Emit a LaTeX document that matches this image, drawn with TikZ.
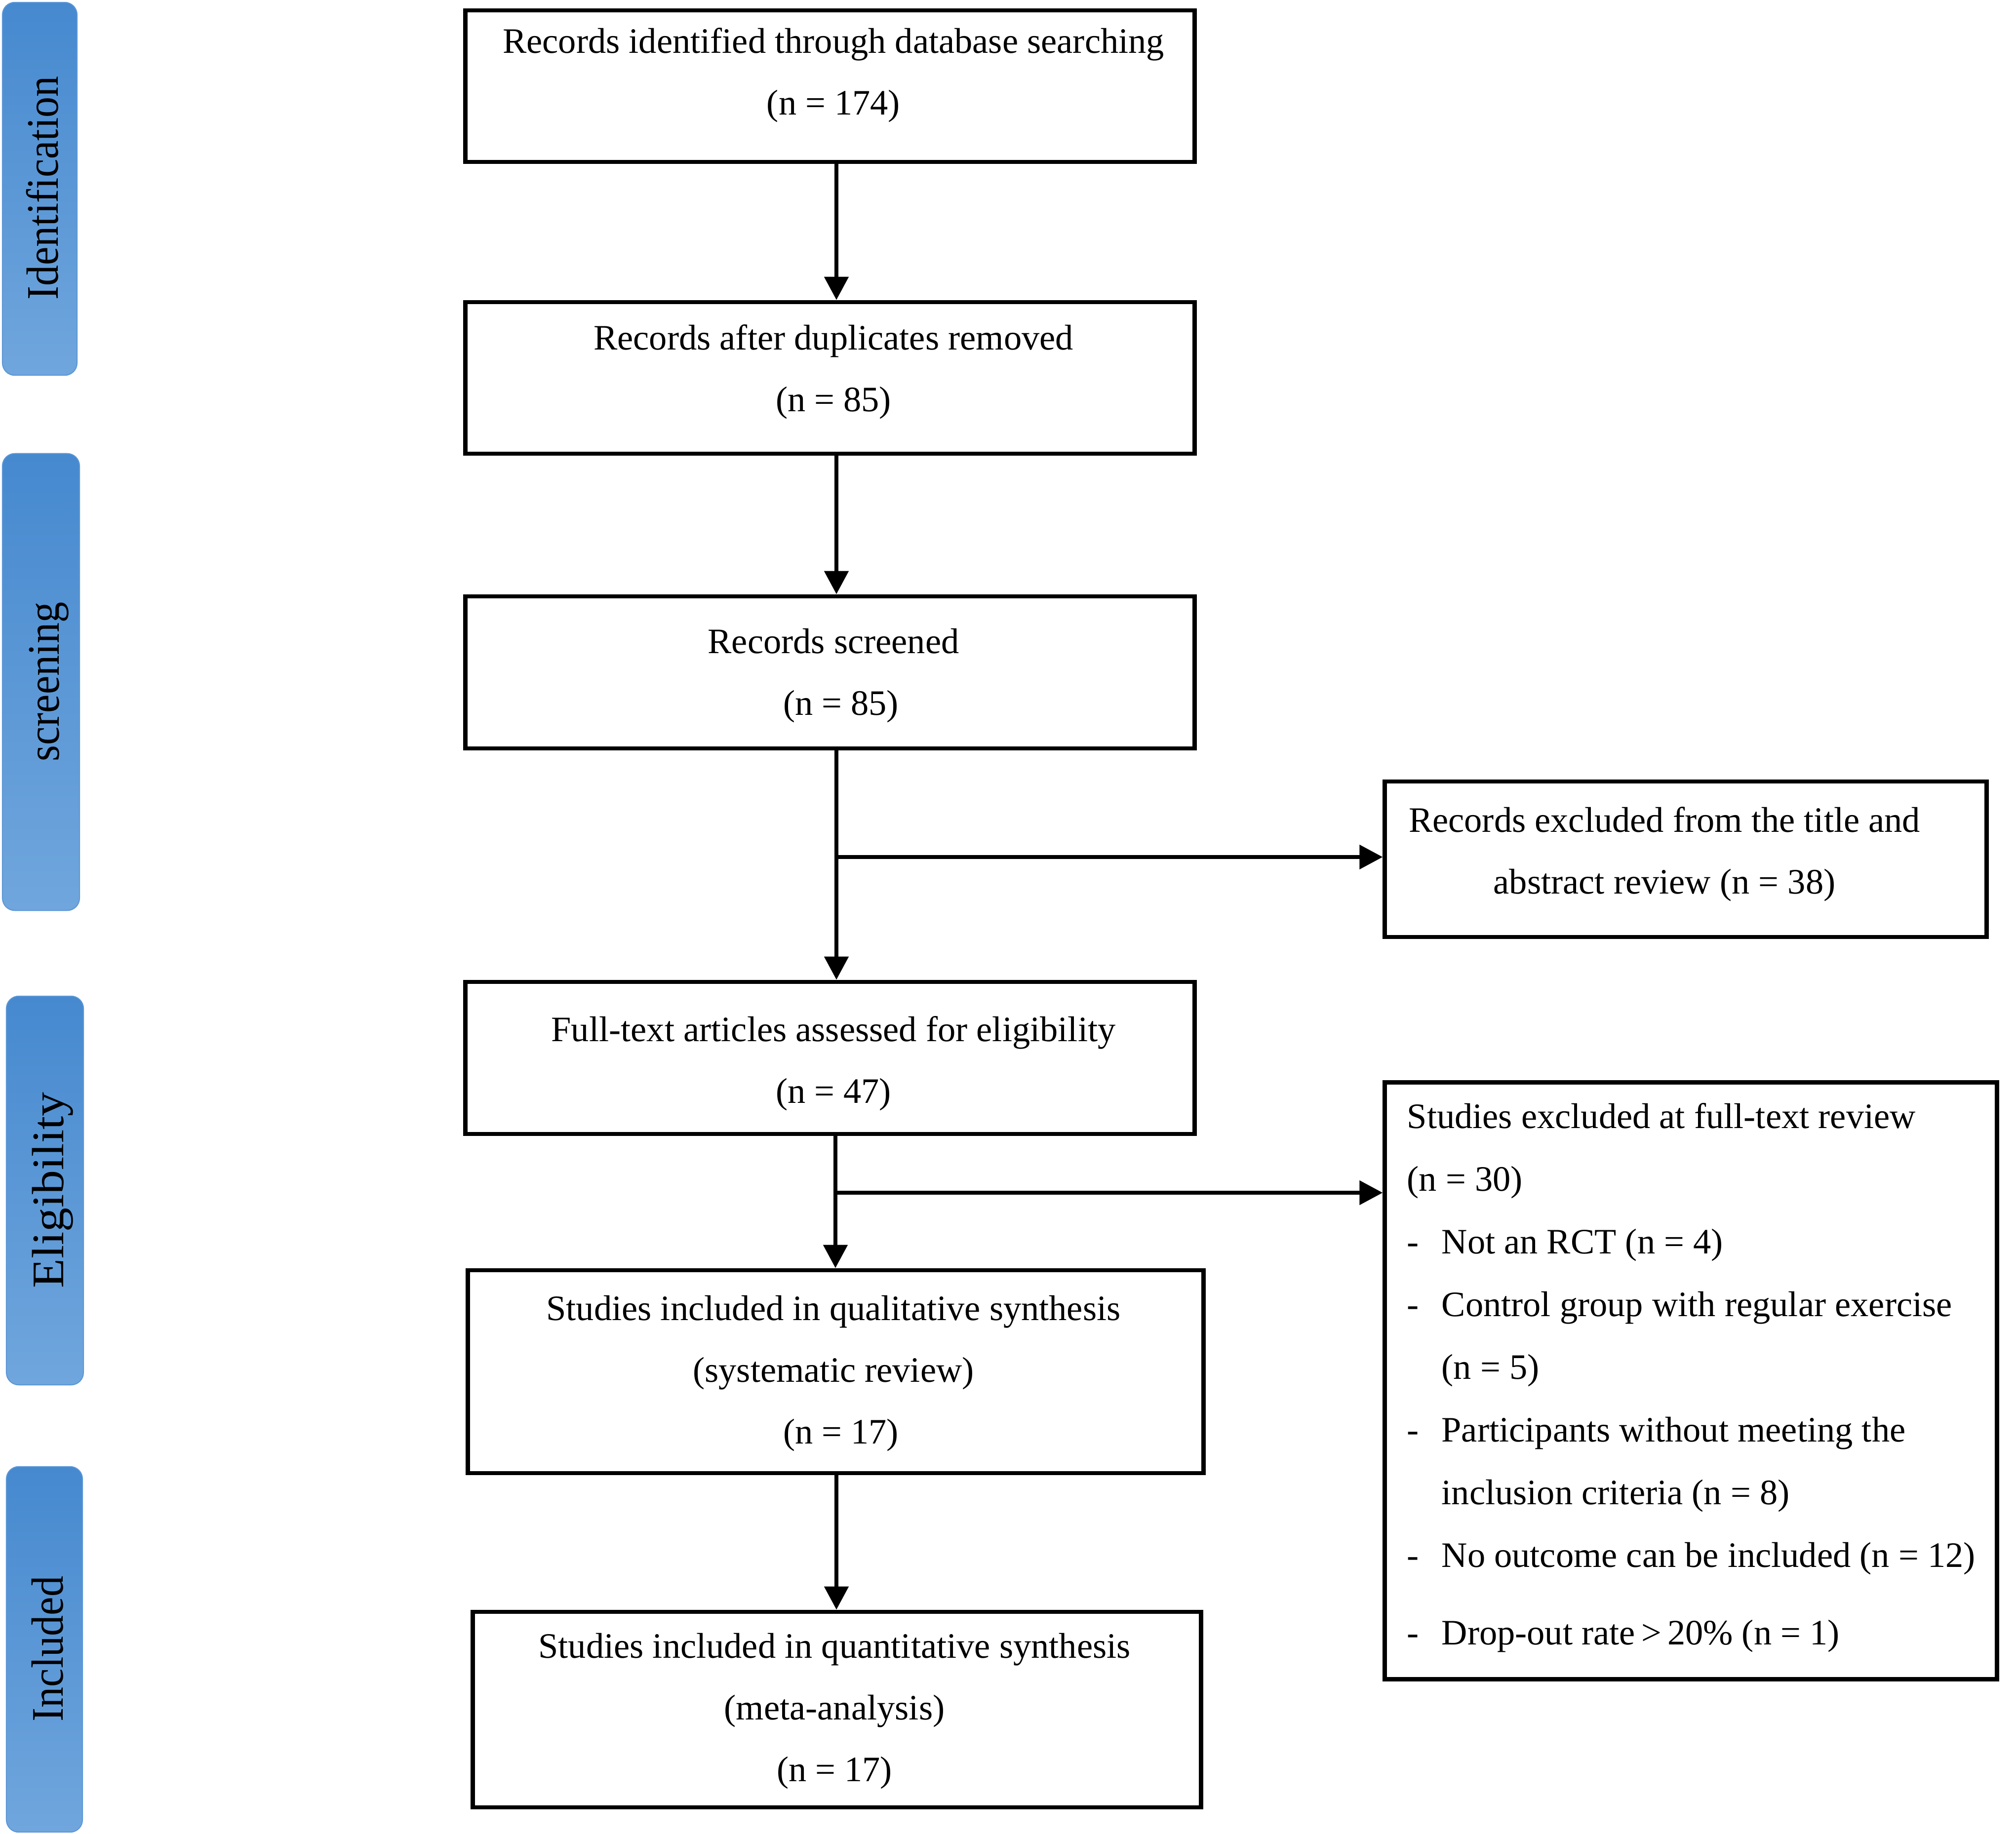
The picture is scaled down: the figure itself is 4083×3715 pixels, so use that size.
\documentclass[tikz,border=0pt]{standalone}
\usepackage{fontspec}
\setmainfont{Liberation Serif}
\usetikzlibrary{arrows.meta,calc}
\definecolor{barTop}{HTML}{4689CF}
\definecolor{barBot}{HTML}{70A6DD}
\definecolor{barEdge}{HTML}{5C97D6}
\begin{document}
\begin{tikzpicture}[x=0.01cm,y=-0.01cm,
  box/.style={draw=black, line width=0.085cm, rectangle, inner sep=0pt},
  txt/.style={inner sep=0pt, font=\fontsize{20.6}{35.6}\selectfont, align=center, anchor=north},
  txtl/.style={inner sep=0pt, font=\fontsize{20.6}{36.1}\selectfont, align=left, anchor=north west},
  arr/.style={line width=0.08cm, -{Triangle[length=0.47cm,width=0.48cm]}},
  conn/.style={line width=0.08cm},
  sidebar/.style={rounded corners=0.25cm, top color=barTop, bottom color=barBot, draw=barEdge, line width=0.02cm, inner sep=0pt},
  sidetxt/.style={rotate=90, anchor=base, inner sep=0pt, font=\fontsize{26}{30}\selectfont}]
\useasboundingbox (0,0) rectangle (4083,3715);

% side bars
\node[sidebar, minimum width=1.51cm, minimum height=7.55cm] (s1) at (80.5,382.5) {};
\node[sidebar, minimum width=1.56cm, minimum height=9.25cm] (s2) at (83,1381.5) {};
\node[sidebar, minimum width=1.56cm, minimum height=7.87cm] (s3) at (91,2411.5) {};
\node[sidebar, minimum width=1.54cm, minimum height=7.40cm] (s4) at (90,3341) {};
\node[sidetxt] (l1) at (117,381) {\scalebox{0.92}[1]{Identification}};
\node[sidetxt] (l2) at (120,1381) {\scalebox{0.92}[1]{screening}};
\node[sidetxt] (l3) at (128,2411) {\scalebox{1.07}[1]{Eligibility}};
\node[sidetxt] (l4) at (127,3340) {\scalebox{0.92}[1]{Included}};

% main boxes
\node[box, minimum width=14.76cm, minimum height=3.07cm] (b1) at (1681,174.5) {};
\node[box, minimum width=14.76cm, minimum height=3.07cm] (b2) at (1681,765.5) {};
\node[box, minimum width=14.76cm, minimum height=3.08cm] (b3) at (1681,1362) {};
\node[box, minimum width=14.76cm, minimum height=3.08cm] (b4) at (1681,2143) {};
\node[box, minimum width=14.89cm, minimum height=4.11cm] (b5) at (1692.5,2778.5) {};
\node[box, minimum width=14.74cm, minimum height=3.96cm] (b6) at (1695,3463) {};
\node[box, minimum width=12.18cm, minimum height=3.15cm] (e1) at (3414,1740.5) {};
\node[box, minimum width=12.39cm, minimum height=12.08cm] (e2) at (3424.5,2797) {};

% texts
\node[txt] (t1) at (1688,19) {\strut Records identified through database searching\\(n = 174)};
\node[txt] (t2) at (1688,620) {\strut Records after duplicates removed\\(n = 85)};
\node[txt] (t3) at (1688,1235) {\strut Records screened\\\hspace*{0.3cm}(n = 85)};
\node[txt] (t4) at (1688,2021) {\strut Full-text articles assessed for eligibility\\(n = 47)};
\node[txt] (t5) at (1688,2586) {\strut Studies included in qualitative synthesis\\(systematic review)\\\hspace*{0.3cm}(n = 17)};
\node[txt] (t6) at (1690,3270) {\strut Studies included in quantitative synthesis\\(meta-analysis)\\(n = 17)};
\node[txt] (te1) at (3371,1597) {\strut Records excluded from the title and\\abstract review (n = 38)};
\node[txtl] (te2) at (2849,2196) {\strut Studies excluded at full-text review\\
(n = 30)\\
\makebox[0.70cm][l]{-}Not an RCT (n = 4)\\
\makebox[0.70cm][l]{-}Control group with regular exercise\\
\hspace*{0.70cm}(n = 5)\\
\makebox[0.70cm][l]{-}Participants without meeting the\\
\hspace*{0.70cm}inclusion criteria (n = 8)\\
\makebox[0.70cm][l]{-}No outcome can be included (n = 12)\\[0.3cm]
\makebox[0.70cm][l]{-}Drop-out rate\,>\,20\% (n = 1)};

% connectors
\coordinate (cx) at (1694,0);
\coordinate (cx2) at (1692,0);
\draw[arr] (b1.south -| cx) -- (b2.north -| cx);
\draw[arr] (b2.south -| cx) -- (b3.north -| cx);
\draw[arr] (b3.south -| cx) -- (b4.north -| cx);
\coordinate (j1) at (1694,1736);
\draw[arr] (j1) -- (e1.west |- j1);
\draw[arr] (b4.south -| cx2) -- (b5.north -| cx2);
\coordinate (j2) at (1692,2416);
\draw[arr] (j2) -- (e2.west |- j2);
\draw[arr] (b5.south -| cx) -- (b6.north -| cx);
\end{tikzpicture}
\end{document}
